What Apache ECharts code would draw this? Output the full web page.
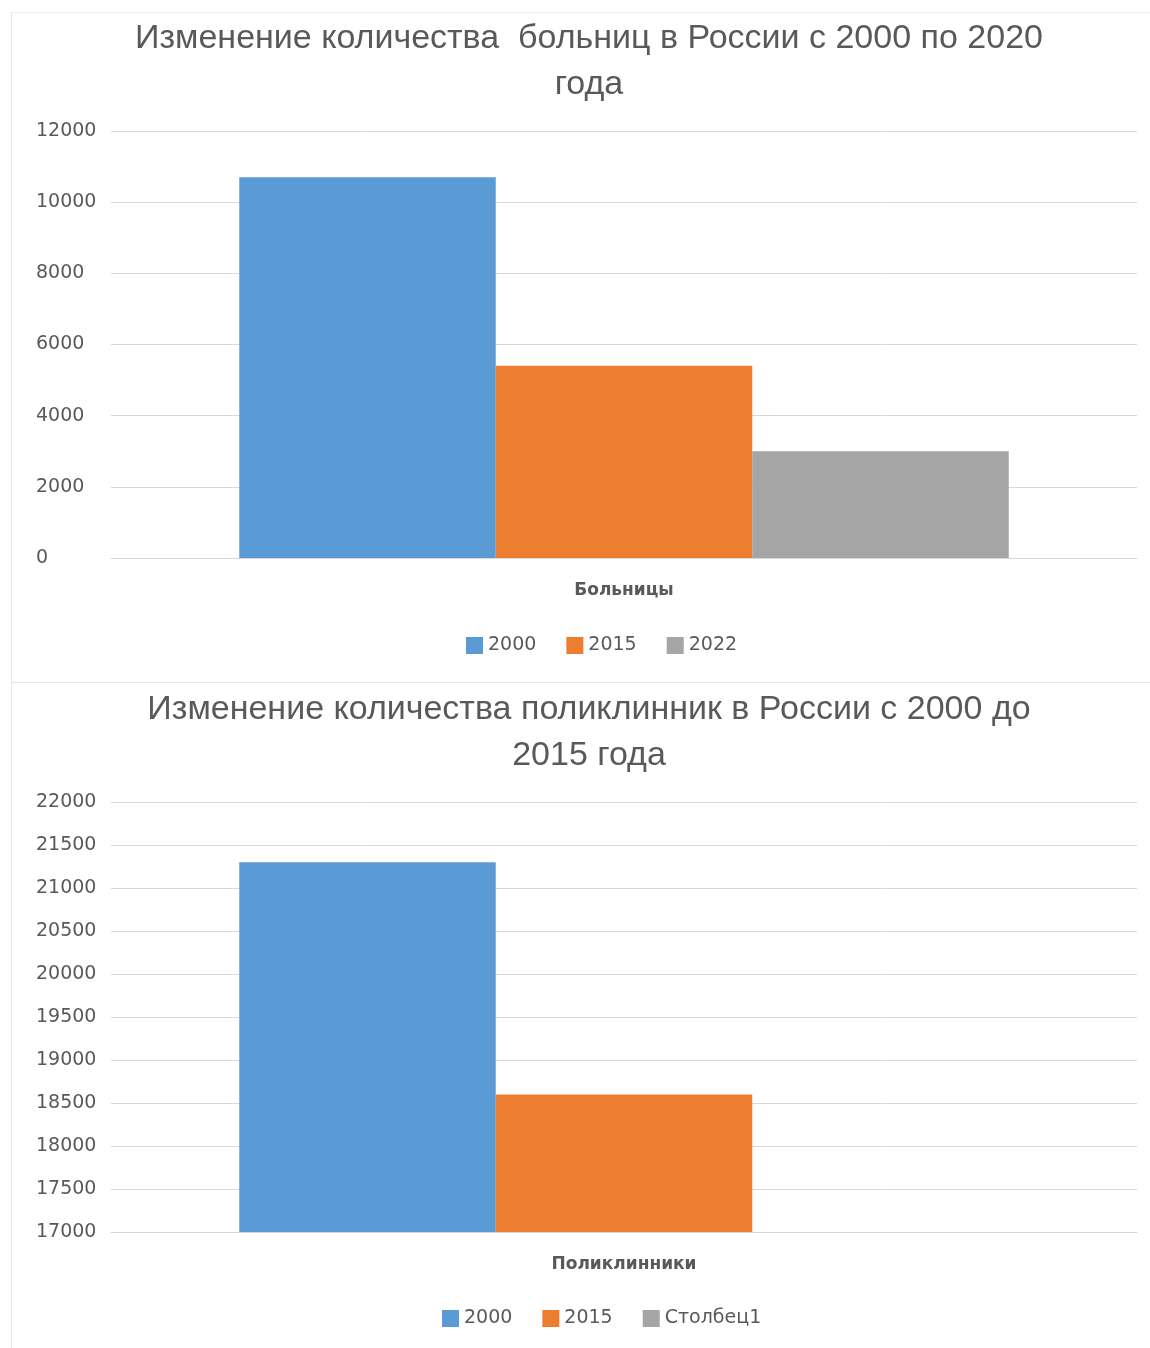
<!DOCTYPE html>
<html>
<head>
<meta charset="utf-8">
<script src="https://cdn.jsdelivr.net/npm/echarts@6/dist/echarts.min.js"></script>
<style>
html,body{margin:0;padding:0;background:#fff;width:1150px;height:1348px;overflow:hidden;}
.box{position:absolute;background:#fff;box-sizing:border-box;}
#c1{left:11px;top:12px;width:1139px;height:671px;border-left:1px solid #e6e6e6;border-top:1px solid #eeeeee;border-bottom:1px solid #e6e6e6;}
#c2{left:11px;top:683px;width:1139px;height:665px;border-left:1px solid #e6e6e6;}
</style>
</head>
<body>
<div id="c1" class="box"></div>
<div id="c2" class="box"></div>
<script>
// Chart 1: hospitals
const title1 = 'Изменение количества  больниц в России с 2000 по 2020\nгода';
const categories1 = ['Больницы'];
const seriesNames1 = ['2000', '2015', '2022'];
const values1 = [[10700], [5400], [3000]];
const yMin1 = 0, yMax1 = 12000, yStep1 = 2000;

// Chart 2: polyclinics
const title2 = 'Изменение количества поликлинник в России с 2000 до\n2015 года';
const categories2 = ['Поликлинники'];
const seriesNames2 = ['2000', '2015', 'Столбец1'];
const values2 = [[21300], [18600], [null]];
const yMin2 = 17000, yMax2 = 22000, yStep2 = 500;

const colors = ['#5b9bd5', '#ed7d31', '#a5a5a5'];
const txt = '#595959';
const titleFont = '"Liberation Sans Narrow", "Liberation Sans", sans-serif';
const labelFont = '"DejaVu Sans", sans-serif';

function build(title, cats, names, vals, ymin, ymax, ystep, gridTop, gridBottom, legendTop, legendLeft, titleTop) {
  return {
    animation: false,
    color: colors,
    title: {
      text: title, left: 577, textAlign: 'center', top: titleTop, padding: 0,
      textStyle: {fontFamily: titleFont, fontSize: 34, fontWeight: 'normal', color: txt, lineHeight: 46}
    },
    legend: {
      data: names, top: legendTop, left: legendLeft,
      itemWidth: 17, itemHeight: 17, itemGap: 30, icon: 'rect',
      textStyle: {fontFamily: labelFont, fontSize: 19, color: txt}
    },
    grid: {left: 99, right: 13, top: gridTop, bottom: gridBottom, containLabel: false},
    xAxis: {
      type: 'category', data: cats,
      axisLine: {lineStyle: {color: '#d9d9d9', width: 1}},
      axisTick: {show: false},
      axisLabel: {fontFamily: labelFont, fontSize: 17, fontWeight: 'bold', color: txt, margin: 24}
    },
    yAxis: {
      type: 'value', min: ymin, max: ymax, interval: ystep,
      axisLine: {show: false}, axisTick: {show: false},
      splitLine: {lineStyle: {color: '#d9d9d9', width: 1}},
      axisLabel: {fontFamily: labelFont, fontSize: 19, color: txt, align: 'left', margin: 75,
                  formatter: v => String(v)}
    },
    series: names.map((n, i) => ({
      name: n, type: 'bar', data: vals[i],
      barGap: '0%', barCategoryGap: '25%'
    }))
  };
}

const ch1 = echarts.init(document.getElementById('c1'));
ch1.setOption(build(title1, categories1, seriesNames1, values1, yMin1, yMax1, yStep1, 118, 124, 618, 449, 3));
const ch2 = echarts.init(document.getElementById('c2'));
ch2.setOption(build(title2, categories2, seriesNames2, values2, yMin2, yMax2, yStep2, 119, 116, 621, 425, 4));
</script>
</body>
</html>
